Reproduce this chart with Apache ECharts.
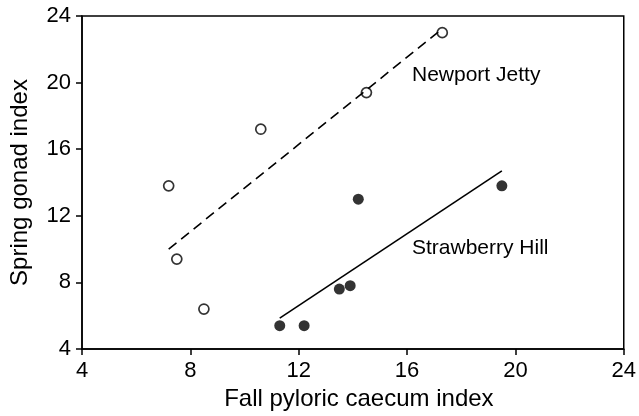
<!DOCTYPE html>
<html><head><meta charset="utf-8">
<script src="https://cdn.jsdelivr.net/npm/echarts@6/dist/echarts.min.js"></script>
<style>html,body{margin:0;padding:0;background:#fff}#c{width:639px;height:416px}</style>
</head><body><div id="c"></div>
<script>
const newportX = [7.2, 7.5, 8.5, 10.6, 14.5, 17.3];
const newportY = [13.8, 9.4, 6.4, 17.2, 19.4, 23.0];
const strawX = [11.3, 12.2, 13.5, 13.9, 14.2, 19.5];
const strawY = [5.4, 5.4, 7.6, 7.8, 13.0, 13.8];
const newportFitX = [7.2, 17.2];
const newportFitY = [10.0, 23.1];
const strawFitX = [11.3, 19.5];
const strawFitY = [5.85, 14.7];
const axisTicks = [4, 8, 12, 16, 20, 24];

const zip = (a, b) => a.map((v, i) => [v, b[i]]);
const font = 'Liberation Sans, Arial, sans-serif';
const chart = echarts.init(document.getElementById('c'));
chart.setOption({
  animation: false,
  grid: {left: 80, right: 13, top: 16, bottom: 67, show: true, borderColor: '#000', borderWidth: 1.5},
  xAxis: {
    type: 'value', min: axisTicks[0], max: axisTicks[axisTicks.length - 1], interval: 4,
    name: 'Fall pyloric caecum index', nameLocation: 'middle', nameGap: 38,
    nameTextStyle: {fontFamily: font, fontSize: 24, color: '#000', padding: [0, 0, 0, 12]},
    axisLine: {lineStyle: {color: '#000', width: 1.5}},
    axisTick: {inside: false, length: 6, lineStyle: {color: '#000', width: 1.5}},
    axisLabel: {fontFamily: font, fontSize: 22, color: '#000', margin: 11},
    splitLine: {show: false}
  },
  yAxis: {
    type: 'value', min: axisTicks[0], max: axisTicks[axisTicks.length - 1], interval: 4,
    name: 'Spring gonad index', nameLocation: 'middle', nameGap: 50,
    nameTextStyle: {fontFamily: font, fontSize: 24, color: '#000'},
    axisLine: {lineStyle: {color: '#000', width: 1.5}},
    axisTick: {inside: false, length: 6, lineStyle: {color: '#000', width: 1.5}},
    axisLabel: {fontFamily: font, fontSize: 22, color: '#000', margin: 11},
    splitLine: {show: false}
  },
  series: [
    {type: 'line', data: zip(newportFitX, newportFitY), symbol: 'none',
     lineStyle: {color: '#000', width: 1.6, type: [10, 6]}},
    {type: 'line', data: zip(strawFitX, strawFitY), symbol: 'none',
     lineStyle: {color: '#000', width: 1.6}},
    {type: 'scatter', name: 'Newport Jetty', data: zip(newportX, newportY), symbol: 'circle', symbolSize: 10,
     itemStyle: {color: '#fff', borderColor: '#000', borderWidth: 1.7}},
    {type: 'scatter', name: 'Strawberry Hill', data: zip(strawX, strawY), symbol: 'circle', symbolSize: 11,
     itemStyle: {color: '#000'}}
  ],
  graphic: [
    {type: 'text', left: 412, top: 65, style: {text: 'Newport Jetty', fontFamily: font, fontSize: 21, fill: '#000'}},
    {type: 'text', left: 412, top: 238, style: {text: 'Strawberry Hill', fontFamily: font, fontSize: 21, fill: '#000'}}
  ]
});
</script></body></html>
